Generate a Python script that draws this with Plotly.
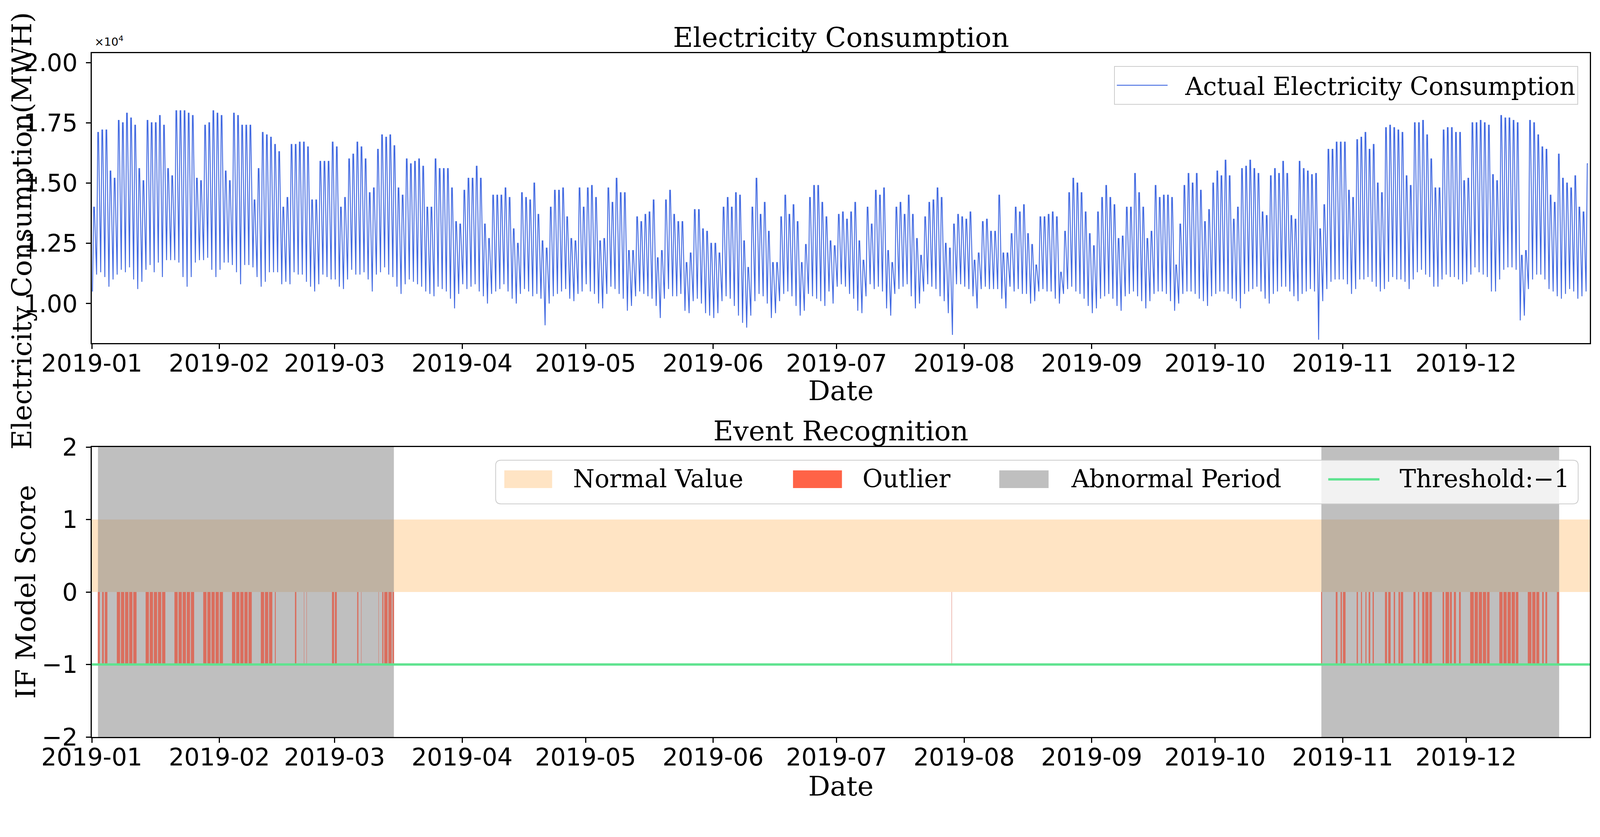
import pandas as pd
import plotly.graph_objects as go

# ---------------- data (values in 10^4 MWH) ----------------
peak_jan = [1.40,1.71,1.72,1.72,1.55,1.52,1.76,1.75,1.79,1.77,1.74,1.56,1.51,1.76,1.75,1.75,1.78,1.74,1.56,1.53,1.80,1.80,1.80,1.79,1.78,1.52,1.51,1.74,1.75,1.80,1.79]
peak_feb = [1.78,1.55,1.51,1.79,1.78,1.74,1.74,1.74,1.43,1.56,1.71,1.70,1.69,1.66,1.63,1.40,1.44,1.66,1.66,1.67,1.67,1.65,1.43,1.43,1.59,1.59,1.59,1.67]
peak_mar = [1.65,1.40,1.44,1.60,1.62,1.67,1.65,1.60,1.46,1.48,1.64,1.70,1.69,1.70,1.655,1.48,1.45,1.60,1.58,1.59,1.60,1.57,1.40,1.40,1.60,1.56,1.56,1.56,1.48,1.34,1.33]
peak_apr = [1.47,1.52,1.52,1.57,1.52,1.33,1.27,1.45,1.45,1.45,1.48,1.44,1.31,1.25,1.46,1.44,1.43,1.50,1.37,1.26,1.23,1.40,1.47,1.47,1.48,1.36,1.27,1.26,1.48,1.40]
peak_may = [1.48,1.49,1.44,1.26,1.27,1.48,1.42,1.52,1.46,1.46,1.22,1.22,1.36,1.34,1.37,1.38,1.43,1.19,1.22,1.43,1.47,1.37,1.34,1.34,1.17,1.21,1.39,1.39,1.31,1.30,1.25]
peak_jun = [1.25,1.21,1.40,1.44,1.40,1.46,1.45,1.26,1.15,1.40,1.52,1.37,1.42,1.30,1.17,1.17,1.36,1.45,1.37,1.41,1.34,1.17,1.245,1.44,1.49,1.49,1.42,1.36,1.26,1.24]
peak_jul = [1.37,1.38,1.35,1.38,1.42,1.26,1.18,1.40,1.33,1.47,1.45,1.48,1.22,1.17,1.40,1.42,1.37,1.45,1.37,1.27,1.20,1.36,1.42,1.43,1.48,1.44,1.25,1.23,1.33,1.37,1.36]
peak_aug = [1.35,1.38,1.18,1.21,1.34,1.35,1.30,1.30,1.45,1.21,1.21,1.29,1.40,1.38,1.41,1.29,1.245,1.16,1.36,1.36,1.37,1.38,1.36,1.13,1.30,1.46,1.52,1.50,1.46,1.38,1.29]
peak_sep = [1.24,1.38,1.44,1.49,1.44,1.41,1.27,1.28,1.40,1.40,1.54,1.46,1.40,1.27,1.30,1.49,1.44,1.45,1.45,1.44,1.16,1.33,1.49,1.54,1.50,1.54,1.47,1.34,1.39,1.50]
peak_oct = [1.55,1.53,1.595,1.53,1.35,1.40,1.56,1.57,1.595,1.56,1.54,1.38,1.365,1.53,1.56,1.54,1.59,1.54,1.365,1.35,1.59,1.56,1.55,1.535,1.54,1.31,1.41,1.64,1.64,1.67,1.67]
peak_nov = [1.67,1.47,1.44,1.68,1.69,1.71,1.64,1.66,1.50,1.46,1.73,1.74,1.73,1.72,1.71,1.53,1.49,1.75,1.75,1.76,1.70,1.60,1.48,1.48,1.72,1.73,1.73,1.71,1.71,1.51]
peak_dec = [1.52,1.75,1.75,1.76,1.75,1.74,1.535,1.51,1.78,1.77,1.77,1.76,1.75,1.20,1.22,1.76,1.75,1.70,1.65,1.64,1.45,1.42,1.62,1.52,1.50,1.48,1.53,1.40,1.38,1.58]

trough_jan = [1.05,1.12,1.13,1.11,1.07,1.10,1.12,1.14,1.13,1.15,1.10,1.06,1.09,1.14,1.16,1.13,1.17,1.11,1.18,1.18,1.18,1.17,1.11,1.07,1.11,1.17,1.18,1.18,1.19,1.14,1.11]
trough_feb = [1.14,1.17,1.17,1.16,1.13,1.08,1.16,1.16,1.15,1.11,1.07,1.09,1.13,1.13,1.13,1.08,1.09,1.08,1.13,1.12,1.12,1.09,1.07,1.05,1.08,1.12,1.11,1.10]
trough_mar = [1.10,1.07,1.06,1.10,1.14,1.12,1.12,1.13,1.10,1.05,1.12,1.13,1.15,1.12,1.11,1.07,1.04,1.08,1.10,1.09,1.08,1.07,1.05,1.04,1.03,1.07,1.06,1.05,1.02,0.98,1.04]
trough_apr = [1.08,1.06,1.07,1.08,1.05,1.03,1.00,1.04,1.05,1.06,1.08,1.05,1.02,1.00,1.04,1.06,1.05,1.03,1.04,1.02,0.91,1.00,1.03,1.04,1.05,1.06,1.02,1.01,1.04,1.05]
trough_may = [1.08,1.05,1.04,1.00,0.98,1.04,1.07,1.06,1.04,1.02,0.97,0.99,1.03,1.05,1.04,1.03,1.02,0.99,0.94,1.02,1.06,1.03,1.03,1.04,0.97,0.96,1.01,1.02,1.00,0.96,0.95]
trough_jun = [0.94,0.96,1.01,1.03,1.02,0.99,0.95,0.92,0.90,0.95,1.01,1.04,1.03,1.00,0.94,0.96,1.01,1.04,1.05,1.03,0.99,0.95,0.97,1.04,1.03,1.02,1.01,0.99,1.05,1.00]
trough_jul = [1.07,1.08,1.07,1.04,1.02,0.97,0.96,1.03,1.08,1.06,1.07,1.05,0.98,0.95,1.04,1.06,1.07,1.08,1.03,0.98,1.00,1.05,1.08,1.07,1.06,1.03,1.01,0.96,0.87,1.08,1.08]
trough_aug = [1.07,1.06,1.03,0.98,1.06,1.07,1.06,1.06,1.06,1.02,0.98,1.07,1.05,1.06,1.04,1.04,1.00,1.01,1.05,1.06,1.05,1.05,1.02,1.00,1.04,1.06,1.07,1.05,1.04,1.02,0.99]
trough_sep = [0.96,0.98,1.02,1.03,1.04,1.02,0.99,0.97,1.03,1.04,1.05,1.03,1.01,0.98,1.01,1.04,1.05,1.05,1.04,1.01,0.97,1.00,1.04,1.05,1.05,1.04,1.02,1.01,0.99,1.03]
trough_oct = [1.04,1.05,1.05,1.04,1.02,1.01,0.98,1.04,1.05,1.06,1.07,1.05,1.02,1.00,1.04,1.05,1.07,1.07,1.05,1.03,1.01,1.04,1.05,1.06,1.05,0.85,1.01,1.06,1.09,1.10,1.10]
trough_nov = [1.10,1.08,1.04,1.06,1.10,1.10,1.11,1.09,1.07,1.05,1.06,1.09,1.11,1.10,1.10,1.09,1.06,1.10,1.13,1.14,1.12,1.11,1.07,1.07,1.10,1.12,1.11,1.11,1.10,1.08]
trough_dec = [1.09,1.12,1.15,1.13,1.12,1.11,1.05,1.05,1.10,1.14,1.15,1.15,1.14,0.93,0.95,1.06,1.10,1.12,1.12,1.10,1.06,1.05,1.03,1.02,1.04,1.06,1.05,1.02,1.03,1.05]

# IF-model event recognition (outlier hours and abnormal periods)
outlier_start = [
    "2019-01-02 11:00", "2019-01-03 12:00", "2019-01-04 04:00",
    "2019-01-07 02:00", "2019-01-08 02:00", "2019-01-09 02:00", "2019-01-10 02:00", "2019-01-11 02:00",
    "2019-01-14 02:00", "2019-01-15 02:00", "2019-01-16 02:00", "2019-01-17 02:00", "2019-01-18 02:00",
    "2019-01-21 02:00", "2019-01-22 02:00", "2019-01-23 02:00", "2019-01-24 02:00", "2019-01-25 02:00",
    "2019-01-28 02:00", "2019-01-29 02:00", "2019-01-30 02:00", "2019-01-31 02:00", "2019-02-01 02:00",
    "2019-02-04 02:00", "2019-02-05 02:00", "2019-02-06 02:00", "2019-02-07 02:00", "2019-02-08 02:00",
    "2019-02-11 02:00", "2019-02-12 02:00", "2019-02-13 02:00", "2019-02-14 12:00",
    "2019-02-19 09:00", "2019-02-21 13:00", "2019-02-22 04:00",
    "2019-02-28 09:00", "2019-03-01 02:00", "2019-03-06 12:00", "2019-03-07 11:00",
    "2019-03-11 16:00", "2019-03-12 14:00", "2019-03-13 02:00", "2019-03-14 02:00", "2019-03-15 02:00",
    "2019-07-28 23:00",
    "2019-10-26 18:00", "2019-10-30 08:00", "2019-10-31 12:00", "2019-11-01 02:00",
    "2019-11-04 10:00", "2019-11-05 11:00", "2019-11-06 13:00", "2019-11-07 08:00", "2019-11-08 07:00",
    "2019-11-11 07:00", "2019-11-12 02:00", "2019-11-13 10:00", "2019-11-14 14:00", "2019-11-15 03:00",
    "2019-11-18 05:00", "2019-11-19 08:00", "2019-11-20 08:00", "2019-11-21 02:00", "2019-11-22 02:00",
    "2019-11-25 07:00", "2019-11-26 00:00", "2019-11-27 02:00", "2019-11-28 01:00", "2019-11-29 07:00",
    "2019-12-02 00:00", "2019-12-03 02:00", "2019-12-04 02:00", "2019-12-05 02:00", "2019-12-06 02:00",
    "2019-12-09 02:00", "2019-12-10 02:00", "2019-12-11 02:00", "2019-12-12 02:00", "2019-12-13 02:00",
    "2019-12-16 00:00", "2019-12-17 02:00", "2019-12-18 02:00", "2019-12-19 12:00", "2019-12-20 07:00",
    "2019-12-23 02:00",
]
outlier_end = [
    "2019-01-02 23:00", "2019-01-03 22:00", "2019-01-04 19:00",
    "2019-01-07 21:00", "2019-01-08 21:00", "2019-01-09 21:00", "2019-01-10 21:00", "2019-01-11 21:00",
    "2019-01-14 21:00", "2019-01-15 21:00", "2019-01-16 21:00", "2019-01-17 21:00", "2019-01-18 21:00",
    "2019-01-21 21:00", "2019-01-22 21:00", "2019-01-23 21:00", "2019-01-24 21:00", "2019-01-25 21:00",
    "2019-01-28 21:00", "2019-01-29 21:00", "2019-01-30 21:00", "2019-01-31 21:00", "2019-02-01 21:00",
    "2019-02-04 21:00", "2019-02-05 21:00", "2019-02-06 21:00", "2019-02-07 21:00", "2019-02-08 21:00",
    "2019-02-11 21:00", "2019-02-12 21:00", "2019-02-13 21:00", "2019-02-14 17:00",
    "2019-02-19 17:00", "2019-02-21 15:00", "2019-02-22 06:00",
    "2019-02-28 21:00", "2019-03-01 13:00", "2019-03-06 19:00", "2019-03-07 13:00",
    "2019-03-11 18:00", "2019-03-12 21:00", "2019-03-13 21:00", "2019-03-14 21:00", "2019-03-15 11:00",
    "2019-07-29 01:00",
    "2019-10-27 00:00", "2019-10-30 18:00", "2019-10-31 20:00", "2019-11-01 17:00",
    "2019-11-04 17:00", "2019-11-05 17:00", "2019-11-06 19:00", "2019-11-07 17:00", "2019-11-08 14:00",
    "2019-11-11 19:00", "2019-11-12 16:00", "2019-11-13 18:00", "2019-11-14 23:00", "2019-11-15 17:00",
    "2019-11-18 17:00", "2019-11-19 14:00", "2019-11-20 21:00", "2019-11-21 21:00", "2019-11-22 17:00",
    "2019-11-25 16:00", "2019-11-26 21:00", "2019-11-27 13:00", "2019-11-28 13:00", "2019-11-29 17:00",
    "2019-12-02 21:00", "2019-12-03 21:00", "2019-12-04 21:00", "2019-12-05 21:00", "2019-12-06 17:00",
    "2019-12-09 21:00", "2019-12-10 21:00", "2019-12-11 21:00", "2019-12-12 21:00", "2019-12-13 17:00",
    "2019-12-16 21:00", "2019-12-17 21:00", "2019-12-18 19:00", "2019-12-19 21:00", "2019-12-20 17:00",
    "2019-12-23 15:00",
]
abnormal_start = ["2019-01-02 12:00", "2019-10-26 20:00"]
abnormal_end = ["2019-03-15 10:00", "2019-12-23 15:00"]
normal_low, normal_high = 0, 1
threshold = -1
x_start, x_end = "2019-01-01 00:00", "2019-12-31 02:00"

month_ticks = ["2019-%02d-01" % m for m in range(1, 13)]
month_labels = ["2019-%02d" % m for m in range(1, 13)]
y1_ticks = [1.00, 1.25, 1.50, 1.75, 2.00]

# ---------------- build ----------------
daily_peak = (peak_jan + peak_feb + peak_mar + peak_apr + peak_may + peak_jun +
              peak_jul + peak_aug + peak_sep + peak_oct + peak_nov + peak_dec)
daily_trough = (trough_jan + trough_feb + trough_mar + trough_apr + trough_may + trough_jun +
                trough_jul + trough_aug + trough_sep + trough_oct + trough_nov + trough_dec)
days = pd.date_range("2019-01-01", periods=len(daily_peak), freq="D")

t, v = [], []
for day, lo, hi in zip(days, daily_trough, daily_peak):
    t += [day + pd.Timedelta(hours=4), day + pd.Timedelta(hours=11), day + pd.Timedelta(hours=15)]
    v += [lo * 1e4, hi * 1e4, hi * 1e4]


def boxes(starts, ends, y0, y1):
    xs, ys = [], []
    for s, e in zip(starts, ends):
        xs += [s, s, e, e, s, None]
        ys += [y0, y1, y1, y0, y0, None]
    return xs, ys


SERIF = "DejaVu Serif"
SANS = "DejaVu Sans"
C_NORMAL = "#FFE4C4"
C_OUTLIER = "#FF6347"
C_OUTLIER_IN_GREY = "rgb(218,110,94)"
C_ABNORMAL = "rgba(128,128,128,0.5)"
C_ABNORMAL_LEGEND = "#BFBFBF"
C_THRESH = "#5EE38F"

fig = go.Figure()
fig.add_trace(go.Scatter(x=t, y=v, mode="lines", name="\u00a0\u00a0Actual Electricity Consumption",
                         line=dict(color="royalblue", width=2.3), xaxis="x", yaxis="y"))

nx, ny = boxes([x_start], [x_end], normal_low, normal_high)
fig.add_trace(go.Scatter(x=nx, y=ny, mode="none", fill="toself", fillcolor=C_NORMAL,
                         name="Normal Value", xaxis="x2", yaxis="y2", showlegend=False))
ax_, ay_ = boxes(abnormal_start, abnormal_end, -2, 2)
fig.add_trace(go.Scatter(x=ax_, y=ay_, mode="none", fill="toself", fillcolor=C_ABNORMAL,
                         name="Abnormal Period", xaxis="x2", yaxis="y2", showlegend=False))
ox, oy = boxes(outlier_start, outlier_end, threshold, 0)
fig.add_trace(go.Scatter(x=ox, y=oy, mode="none", fill="toself", fillcolor=C_OUTLIER_IN_GREY,
                         name="Outlier", xaxis="x2", yaxis="y2", showlegend=False))
fig.add_trace(go.Scatter(x=[x_start, x_end], y=[threshold, threshold], mode="lines",
                         line=dict(color=C_THRESH, width=6), name="Threshold:\u22121",
                         xaxis="x2", yaxis="y2", showlegend=False))

axis_common = dict(showline=True, linecolor="black", linewidth=3, mirror=True, ticks="outside",
                   ticklen=12, tickwidth=3, tickcolor="black", showgrid=False, zeroline=False,
                   tickfont=dict(family=SANS, size=62, color="black"), automargin=False)
xcommon = dict(axis_common, type="date", range=[x_start, x_end], tickvals=month_ticks,
               ticktext=month_labels, ticklabelstandoff=-16)
ycommon = dict(axis_common, ticklabelstandoff=9)

fig.update_layout(
    width=4080, height=2050, autosize=False,
    margin=dict(l=227, r=18, t=128, b=172),
    paper_bgcolor="white", plot_bgcolor="white",
    xaxis=dict(xcommon, domain=[0, 1], anchor="y"),
    yaxis=dict(ycommon, domain=[0.576, 1], anchor="x", range=[8360, 20390],
               tickvals=[k * 1e4 for k in y1_ticks], ticktext=["%.2f" % k for k in y1_ticks]),
    xaxis2=dict(xcommon, domain=[0, 1], anchor="y2"),
    yaxis2=dict(ycommon, domain=[0, 0.424], anchor="x2", range=[-2, 2], dtick=1),
    legend=dict(x=0.9922, y=0.9813, xanchor="right", yanchor="top",
                bgcolor="rgba(255,255,255,0.8)", bordercolor="#CCCCCC", borderwidth=2,
                font=dict(family=SERIF, size=63, color="black"), itemwidth=130),
    showlegend=True,
)


def px(P):   # picture x pixel -> paper x
    return (P - 244) / 3980


def py(P):   # picture y pixel -> paper y
    return (1957 - P) / 1816


# legend of the lower panel (box, swatches, labels)
bx0, bx1, by1, by0 = px(1317), px(4193), py(1222), py(1338)
rx, ry = 14 / 3980, 14 / 1816
box_path = ("M {a},{t} L {b},{t} Q {x1},{t} {x1},{t2} L {x1},{b2} Q {x1},{bt} {b},{bt} "
            "L {a},{bt} Q {x0},{bt} {x0},{b2} L {x0},{t2} Q {x0},{t} {a},{t} Z").format(
    a=bx0 + rx, b=bx1 - rx, t=by1, t2=by1 - ry, bt=by0, b2=by0 + ry, x0=bx0, x1=bx1)
shapes = [dict(type="path", path=box_path, xref="paper", yref="paper", layer="above",
               fillcolor="rgba(255,255,255,0.8)", line=dict(color="#CCCCCC", width=2))]
legend_items = [("Normal Value", C_NORMAL, 1340, 1467, 1521),
                ("Outlier", C_OUTLIER, 2107, 2237, 2290),
                ("Abnormal Period", C_ABNORMAL_LEGEND, 2655, 2786, 2844)]
for name, col, s0, s1, tx in legend_items:
    shapes.append(dict(type="rect", xref="paper", yref="paper", layer="above",
                       x0=px(s0), x1=px(s1), y0=py(1296), y1=py(1249),
                       fillcolor=col, line=dict(width=0)))
shapes.append(dict(type="line", xref="paper", yref="paper", layer="above",
                   x0=px(3529), x1=px(3665), y0=py(1273), y1=py(1273),
                   line=dict(color=C_THRESH, width=6)))
legend_texts = [(n, tx) for n, _, _, _, tx in legend_items] + [("Threshold:\u22121", 3716)]

ann = [
    dict(text="Electricity Consumption", x=0.5, y=py(100), xanchor="center", yanchor="middle",
         font=dict(family=SERIF, size=70)),
    dict(text="Event Recognition", x=0.5, y=py(1144), xanchor="center", yanchor="middle",
         font=dict(family=SERIF, size=70)),
    dict(text="Date", x=0.5, y=py(1038), xanchor="center", yanchor="middle",
         font=dict(family=SERIF, size=70)),
    dict(text="Date", x=0.5, y=py(2088), xanchor="center", yanchor="middle",
         font=dict(family=SERIF, size=70)),
    dict(text="Electricity Consumption(MWH)", x=px(58), y=py(613), xanchor="center",
         yanchor="middle", textangle=-90, font=dict(family=SERIF, size=70)),
    dict(text="IF Model Score", x=px(69), y=py(1572), xanchor="center", yanchor="middle",
         textangle=-90, font=dict(family=SERIF, size=70)),
    dict(text="\u00d710<sup>4</sup>", x=px(249), y=py(131), xanchor="left", yanchor="bottom",
         font=dict(family=SANS, size=29)),
]
for name, tx in legend_texts:
    ann.append(dict(text=name, x=px(tx), y=py(1272), xanchor="left", yanchor="middle",
                    font=dict(family=SERIF, size=63)))
for a in ann:
    a.setdefault("xref", "paper")
    a.setdefault("yref", "paper")
    a.setdefault("showarrow", False)
    a["font"].setdefault("color", "black")
fig.update_layout(annotations=ann, shapes=shapes)

fig.write_html("out.html")
